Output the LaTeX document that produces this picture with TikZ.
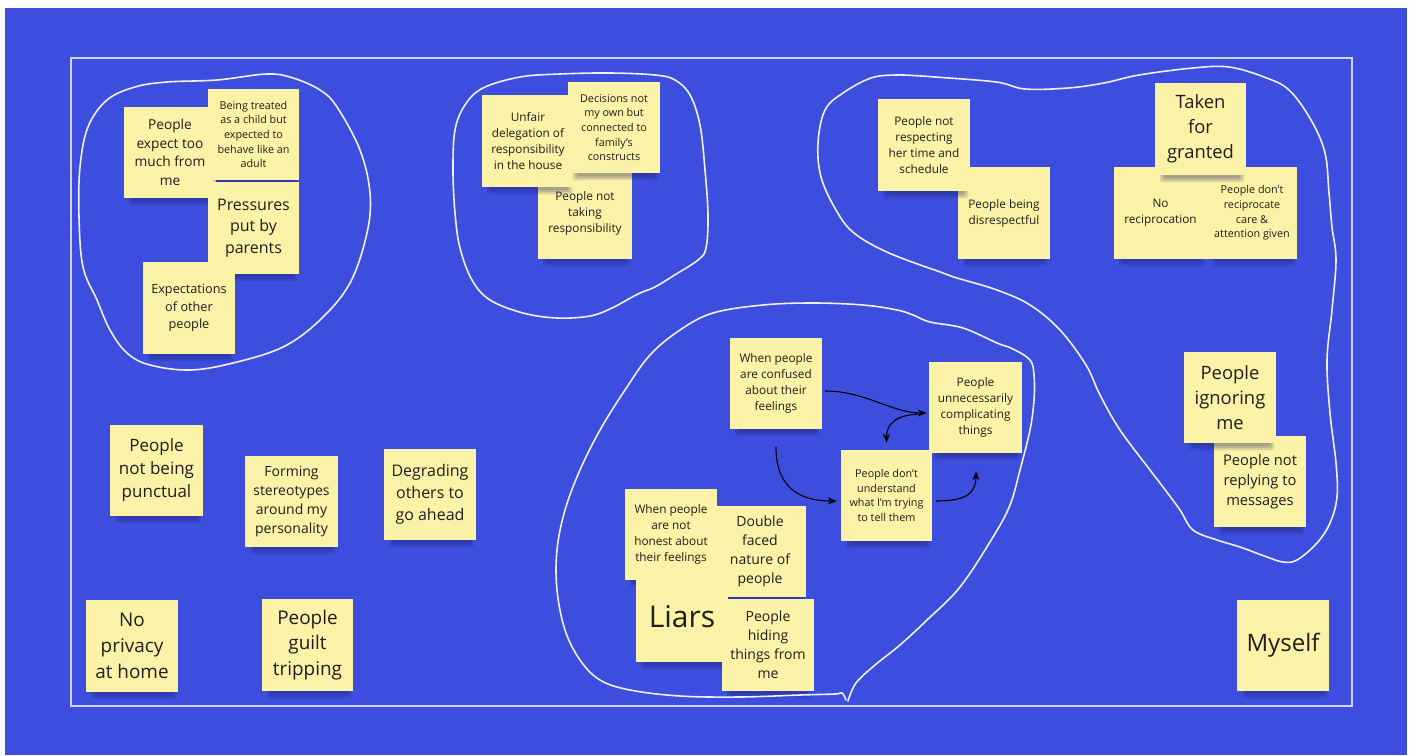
\documentclass[tikz,border=0pt]{standalone}
\usepackage{fontspec}
\setmainfont{Open Sans}
\usetikzlibrary{arrows.meta}

\definecolor{boardblue}{HTML}{3D4EDE}
\definecolor{noteyellow}{HTML}{FAF2A6}
\definecolor{inktext}{HTML}{1F1F1F}
\definecolor{shadowink}{HTML}{141A5C}

\tikzset{
  notebox/.style={rectangle, fill=noteyellow, inner sep=0pt, align=center, text=inktext},
  noteshadow/.style={fill=shadowink, opacity=0.14, rounded corners=2pt},
  lasso/.style={draw=white!94!blue, line width=1.6pt, line join=round, line cap=round},
  framebox/.style={draw=white!82!blue, line width=1.5pt},
  flow/.style={draw=black, line width=1.1pt, -{Stealth[length=9pt,width=7pt]}},
}

% #1 name, #2 left, #3 top, #4 right, #5 bottom, #6 font size, #7 leading, #8 text
\newcommand\stickynote[8]{%
  \fill[noteshadow] (#2+5,#5-3) rectangle (#4-2,#5+7);
  \fill[noteshadow] (#2+7,#5-3) rectangle (#4-4,#5+5);
  \fill[noteshadow] (#2+9,#5-3) rectangle (#4-6,#5+3);
  \node[notebox, minimum width={#4-#2}, minimum height={#5-#3},
        font=\fontsize{#6}{#7}\selectfont] (#1) at ({(#2+#4)/2},{(#3+#5)/2}) {#8};
}

\begin{document}
\begin{tikzpicture}[x=1pt,y=-1pt]
\useasboundingbox (0,0) rectangle (1416,755);
\fill[white] (0,0) rectangle (1416,755);
\fill[boardblue] (5,8) rectangle (1407,755);
\draw[framebox] (71,58) rectangle (1352,706);

% family pressure group
\stickynote{expect}{124}{107}{216}{198}{13.7}{18.7}{People\\expect too\\much from\\me}
\stickynote{child}{208}{89}{299}{180}{10.8}{14.7}{Being treated\\as a child but\\expected to\\behave like an\\adult}
\stickynote{pressure}{208}{182}{299}{274}{16}{21.7}{Pressures\\put by\\parents}
\stickynote{others}{143}{262}{235}{354}{12.7}{17.3}{Expectations\\of other\\people}

% responsibility group
\stickynote{taking}{538}{167}{632}{259}{11.8}{16}{People not\\taking\\responsibility}
\stickynote{unfair}{482}{95}{574}{187}{11.8}{16}{Unfair\\delegation of\\responsibility\\in the house}
\stickynote{decide}{568}{82}{660}{173}{10.8}{14.7}{Decisions not\\my own but\\connected to\\family's\\constructs}

% respect group
\stickynote{disresp}{958}{167}{1050}{259}{11.8}{16}{People being\\disrespectful}
\stickynote{respect}{878}{99}{970}{191}{11.8}{16}{People not\\respecting\\her time and\\schedule}
\stickynote{norecip}{1114}{167}{1207}{259}{11.8}{16}{No\\reciprocation}
\stickynote{care}{1207}{167}{1297}{259}{10.8}{14.7}{People don't\\reciprocate\\care \&\\attention given}
\stickynote{granted}{1155}{83}{1246}{175}{18.4}{25}{Taken\\for\\granted}
\stickynote{reply}{1214}{436}{1306}{527}{14.7}{20}{People not\\replying to\\messages}
\stickynote{ignore}{1184}{352}{1276}{443}{18.4}{25}{People\\ignoring\\me}

% honesty group
\stickynote{confused}{730}{338}{822}{429}{11.8}{16}{When people\\are confused\\about their\\feelings}
\stickynote{complicate}{929}{362}{1022}{453}{11.8}{16}{People\\unnecessarily\\complicating\\things}
\stickynote{understand}{841}{450}{932}{541}{10.8}{14.7}{People don't\\understand\\what I'm trying\\to tell them}
\stickynote{honest}{625}{489}{717}{580}{11.8}{16}{When people\\are not\\honest about\\their feelings}
\stickynote{twoface}{714}{506}{806}{597}{14}{19}{Double\\faced\\nature of\\people}
\stickynote{liars}{636}{571}{728}{662}{30}{40}{Liars}
\stickynote{hiding}{722}{599}{814}{691}{14}{19}{People\\hiding\\things from\\me}

% loose notes
\stickynote{punctual}{110}{425}{203}{516}{17}{23}{People\\not being\\punctual}
\stickynote{stereo}{245}{456}{338}{547}{14}{19}{Forming\\stereotypes\\around my\\personality}
\stickynote{degrade}{384}{449}{476}{540}{16}{21.7}{Degrading\\others to\\go ahead}
\stickynote{privacy}{86}{600}{178}{692}{18.9}{25.7}{No\\privacy\\at home}
\stickynote{guilt}{262}{599}{353}{691}{18.9}{25.7}{People\\guilt\\tripping}
\stickynote{myself}{1237}{600}{1329}{691}{24}{32}{Myself}

% cause and effect arrows
\draw[flow] ([shift={(3,7.5)}]confused.east) .. controls +(40,0) and +(-35,0) .. ([shift={(-2,5.5)}]complicate.west);
\draw[flow] ([shift={(-6,6.5)}]complicate.west) .. controls +(-28,0) and +(0,-18) .. ([shift={(0,-7)}]understand.north);
\draw[flow] ([shift={(0,18)}]confused.south) .. controls +(0,38) and +(-40,0) .. ([shift={(-4,5.5)}]understand.west);
\draw[flow] ([shift={(4,5.5)}]understand.east) .. controls +(30,0) and +(0,22) .. ([shift={(0.5,18)}]complicate.south);

% hand-drawn group outlines
\draw[lasso] plot[smooth cycle, tension=0.6] coordinates {
  (135,87) (167,82) (217,80) (267,74) (293,78) (320,90) (337,107) (360,150)
  (370,193) (367,233) (350,283) (320,320) (283,347) (233,363) (190,370)
  (150,365) (127,353) (110,330) (97,300) (83,267) (79,217) (80,167) (88,127) (107,100)};
\draw[lasso] plot[smooth cycle, tension=0.6] coordinates {
  (483,88) (520,77) (560,74) (610,73) (655,75) (675,80) (690,95) (700,125)
  (705,170) (708,215) (706,248) (698,260) (673,276) (655,287) (638,294)
  (612,308) (590,316) (557,318) (523,313) (490,300) (472,280) (460,248)
  (455,213) (453,170) (455,130) (465,105)};
\draw[lasso] plot[smooth cycle, tension=0.6] coordinates {
  (818,143) (825,110) (843,93) (871,78) (896,75) (921,76) (935,77)
  (996,82) (1025,89) (1068,88) (1104,83) (1139,75) (1193,68) (1229,67)
  (1264,77) (1289,90) (1311,120) (1325,153) (1329,193) (1332,227) (1336,260)
  (1332,310) (1327,360) (1330,413) (1336,463) (1337,497) (1330,523) (1317,543)
  (1297,560) (1283,562) (1267,557) (1240,547) (1217,540) (1193,530) (1180,510)
  (1163,487) (1150,470) (1120,430) (1100,395) (1086,365) (1060,330) (1030,305)
  (997,290) (957,278) (943,273) (889,253) (854,233) (836,210) (821,177)};
\draw[lasso] plot[smooth, tension=0.6] coordinates {
  (848,701) (856,683) (875,665) (900,645) (927,620) (960,587) (993,537)
  (1010,505) (1020,470) (1030,430) (1034,400) (1034,375) (1030,360) (1013,349)
  (997,343) (963,328) (930,322) (913,315) (897,310) (863,305) (813,303)
  (763,305) (713,313) (680,330) (650,355) (625,390) (600,430) (580,470)
  (565,510) (557,550) (557,590) (565,630) (580,660) (600,680) (630,690)
  (680,696) (740,697) (800,695) (835,694) (842,693) (846,700)};
\end{tikzpicture}
\end{document}
